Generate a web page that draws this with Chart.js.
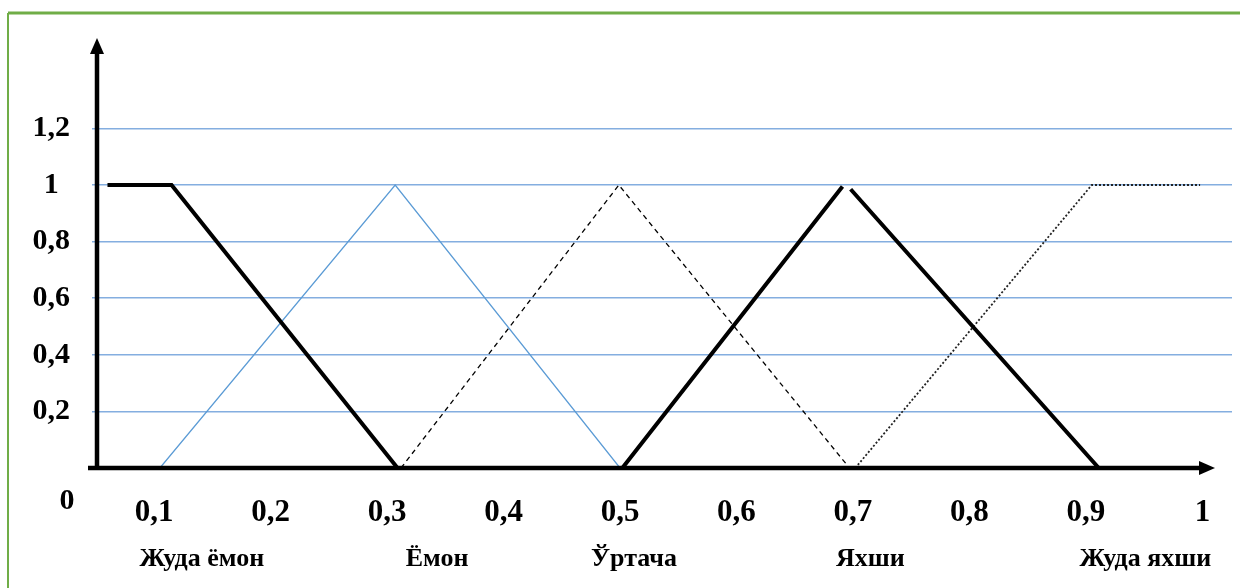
<!DOCTYPE html>
<html>
<head>
<meta charset="utf-8">
<script src="https://cdn.jsdelivr.net/npm/chart.js@4.4.1/dist/chart.umd.min.js"></script>
<style>
  body { margin: 0; background: #fff; }
  canvas { display: block; }
</style>
</head>
<body>
<canvas id="myChart" width="1240" height="588"></canvas>
<script>
/* DATA */

var xTicks = [0.1, 0.2, 0.3, 0.4, 0.5, 0.6, 0.7, 0.8, 0.9, 1];
var xTickLabels = ["0,1", "0,2", "0,3", "0,4", "0,5", "0,6", "0,7", "0,8", "0,9", "1"];
var yTicks = [0.2, 0.4, 0.6, 0.8, 1, 1.2];
var yTickLabels = ["0,2", "0,4", "0,6", "0,8", "1", "1,2"];
var categories = ["Жуда ёмон", "Ёмон", "Ўртача", "Яхши", "Жуда яхши"];
var categoryPos = [0.141, 0.343, 0.512, 0.715, 0.951];

// membership functions, [x, y] pairs
var veryBad = [[0.060, 1], [0.115, 1], [0.309, 0]];
var bad = [[0.105, 0], [0.307, 1], [0.500, 0]];
var average = [[0.312, 0], [0.499, 1], [0.697, 0]];
var good = [[0.502, 0], [0.691, 0.995], [0.694, null], [0.698, 0.985], [0.911, 0]];
var veryGood = [[0.702, 0], [0.905, 1], [0.998, 1]];

var serif = "'Times New Roman', 'Liberation Serif', serif";

function pts(arr) {
  return arr.map(function (p) { return { x: p[0], y: p[1] }; });
}

/* AXES WITH ARROWS + BORDER */
var axesPlugin = {
  id: "axesPlugin",
  afterDraw: function (chart) {
    var ctx = chart.ctx;
    var a = chart.chartArea;
    ctx.save();
    // green frame
    ctx.strokeStyle = "#70ad47";
    ctx.lineWidth = 3;
    ctx.beginPath();
    ctx.moveTo(8, 13);
    ctx.lineTo(1240, 13);
    ctx.stroke();
    ctx.lineWidth = 2;
    ctx.beginPath();
    ctx.moveTo(8, 13);
    ctx.lineTo(8, 588);
    ctx.stroke();

    ctx.strokeStyle = "#000";
    ctx.fillStyle = "#000";
    ctx.lineWidth = 4.5;
    // y axis
    ctx.beginPath();
    ctx.moveTo(a.left, a.bottom + 2);
    ctx.lineTo(a.left, a.top + 12);
    ctx.stroke();
    ctx.beginPath();
    ctx.moveTo(a.left, a.top - 2);
    ctx.lineTo(a.left - 7, a.top + 14);
    ctx.lineTo(a.left + 7, a.top + 14);
    ctx.closePath();
    ctx.fill();
    // x axis
    var tip = a.right - 17;
    ctx.beginPath();
    ctx.moveTo(a.left - 9, a.bottom);
    ctx.lineTo(tip - 12, a.bottom);
    ctx.stroke();
    ctx.beginPath();
    ctx.moveTo(tip, a.bottom);
    ctx.lineTo(tip - 16, a.bottom - 7);
    ctx.lineTo(tip - 16, a.bottom + 7);
    ctx.closePath();
    ctx.fill();
    // origin label
    ctx.font = "bold 30px " + serif;
    ctx.textAlign = "center";
    ctx.textBaseline = "middle";
    ctx.fillText("0", 67, 501);
    ctx.restore();
  }
};

new Chart("myChart", {
  type: "line",
  data: {
    datasets: [
      { data: pts(veryBad), borderColor: "#000", borderWidth: 4 },
      { data: pts(bad), borderColor: "#5b9bd5", borderWidth: 1.3 },
      { data: pts(average), borderColor: "#000", borderWidth: 1.3, borderDash: [5, 4] },
      { data: pts(good), borderColor: "#000", borderWidth: 4, spanGaps: false },
      { data: pts(veryGood), borderColor: "#222", borderWidth: 1.8, borderDash: [2, 2] }
    ]
  },
  options: {
    responsive: false,
    animation: false,
    layout: { padding: { top: 40, right: 8, left: 0, bottom: 0 } },
    elements: {
      point: { radius: 0 },
      line: { tension: 0, borderCapStyle: "butt" }
    },
    plugins: {
      legend: { display: false },
      tooltip: { enabled: false }
    },
    scales: {
      x: {
        type: "linear",
        position: "bottom",
        min: 0.051,
        max: 1.0254,
        grid: { display: false, drawTicks: false },
        border: { display: false },
        afterBuildTicks: function (s) {
          s.ticks = xTicks.map(function (v) { return { value: v }; });
        },
        afterFit: function (s) { s.height = 70; },
        ticks: {
          autoSkip: false,
          maxRotation: 0,
          padding: 26,
          color: "#000",
          font: { family: serif, size: 31, weight: "bold" },
          callback: function (v, i) { return xTickLabels[i]; }
        }
      },
      x2: {
        type: "linear",
        position: "bottom",
        min: 0.051,
        max: 1.0254,
        grid: { display: false, drawTicks: false },
        border: { display: false },
        afterBuildTicks: function (s) {
          s.ticks = categoryPos.map(function (v) { return { value: v }; });
        },
        afterFit: function (s) { s.height = 50; },
        ticks: {
          autoSkip: false,
          maxRotation: 0,
          padding: 6,
          color: "#000",
          font: { family: serif, size: 26, weight: "bold" },
          callback: function (v, i) { return categories[i]; }
        }
      },
      y: {
        min: 0,
        max: 1.5124,
        grid: {
          color: "#84aee0",
          lineWidth: 1.5,
          tickLength: 5
        },
        border: { display: false },
        afterBuildTicks: function (s) {
          s.ticks = yTicks.map(function (v) { return { value: v }; });
        },
        afterFit: function (s) { s.width = 97; },
        ticks: {
          padding: 22,
          crossAlign: "center",
          color: "#000",
          font: { family: serif, size: 30, weight: "bold" },
          callback: function (v, i) { return yTickLabels[i]; }
        }
      }
    }
  },
  plugins: [axesPlugin]
});
</script>
</body>
</html>
